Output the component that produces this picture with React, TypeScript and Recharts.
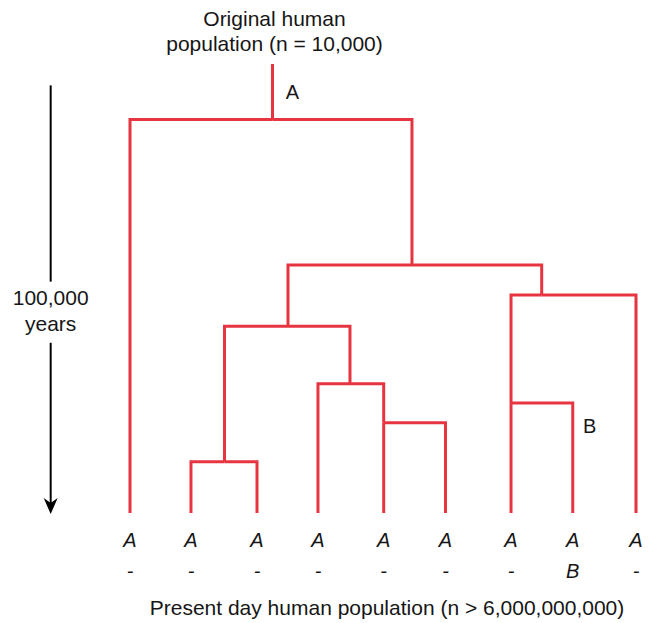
import { LineChart, Line, XAxis, YAxis, ReferenceLine, ReferenceDot } from "recharts";

const RED = "#e63540";
const INK = "#161616";
const FONT = "'Liberation Sans', Arial, Helvetica, sans-serif";

// leaves along the bottom (x in leaf units) and the two rows of labels under them
const leafX = [0, 0.964, 2.008, 2.972, 4.011, 4.988, 6.024, 7.0, 8];
const leafTop = ["A", "A", "A", "A", "A", "A", "A", "A", "A"];
const leafBottom = ["-", "-", "-", "-", "-", "-", "-", "B", "-"];
const leafParent = [0, 3, 3, 4, 5, 5, 7, 7, 6];

// internal split points: x position, time of split (thousand years ago), parent
const nodeX = [2.253, 4.458, 2.498, 1.494, 3.478, 4.011, 6.509, 6.024];
const nodeKya = [92.0, 58.0, 43.7, 12.0, 30.2, 21.1, 51.0, 25.7];
const nodeParent = [-1, 0, 1, 2, 2, 4, 1, 6];

const originKya = 105;

// time arrow on the left
const arrowX = -1.254;
const arrowTop = 100;
const arrowGap = [54.1, 39.8];

type Pt = { x: number; y: number };

function elbow(px: number, py: number, cx: number, cy: number): Pt[] {
  return [
    { x: px, y: py },
    { x: cx, y: py },
    { x: cx, y: cy },
  ];
}

const branches: Pt[][] = [
  [
    { x: nodeX[0], y: originKya },
    { x: nodeX[0], y: nodeKya[0] },
  ],
];
nodeParent.forEach((p, i) => {
  if (p >= 0) branches.push(elbow(nodeX[p], nodeKya[p], nodeX[i], nodeKya[i]));
});
leafParent.forEach((p, i) => {
  branches.push(elbow(nodeX[p], nodeKya[p], leafX[i], 0));
});

function LeafTick(props: any) {
  const { x, y, payload } = props;
  const i = props.index ?? leafX.indexOf(payload.value);
  return (
    <g>
      <text x={x} y={y + 34} textAnchor="middle" fontSize={20} fontStyle="italic" fill={INK}>
        {leafTop[i]}
      </text>
      <text x={x} y={y + 65} textAnchor="middle" fontSize={20} fontStyle="italic" fill={INK}>
        {leafBottom[i]}
      </text>
    </g>
  );
}

export default function App() {
  return (
    <div style={{ position: "absolute", left: 0, top: 0, fontFamily: FONT }}>
      <LineChart
        width={650}
        height={623}
        margin={{ top: 64, right: 14, bottom: 0, left: 130 }}
      >
        <XAxis
          type="number"
          dataKey="x"
          domain={[0, 8]}
          ticks={leafX}
          interval={0}
          axisLine={false}
          tickLine={false}
          tickSize={0}
          tickMargin={0}
          height={110}
          tick={<LeafTick />}
          label={{
            value: "Present day human population (n > 6,000,000,000)",
            position: "insideBottom",
            offset: 8,
            dx: 4,
            fontSize: 21,
            fill: INK,
          }}
        />
        <YAxis type="number" dataKey="y" domain={[0, originKya]} hide />
        {branches.map((pts, i) => (
          <Line
            key={i}
            data={pts}
            dataKey="y"
            type="linear"
            stroke={RED}
            strokeWidth={3}
            dot={false}
            activeDot={false}
            isAnimationActive={false}
          />
        ))}

        <ReferenceDot
          x={nodeX[0]}
          y={originKya}
          r={0}
          ifOverflow="visible"
          shape={(p: any) => (
            <g>
              <text x={p.cx + 2} y={p.cy - 38} textAnchor="middle" fontSize={21} fill={INK}>
                Original human
              </text>
              <text x={p.cx + 2} y={p.cy - 13} textAnchor="middle" fontSize={21} fill={INK}>
                population (n = 10,000)
              </text>
            </g>
          )}
        />
        <ReferenceDot
          x={nodeX[0]}
          y={98.5}
          r={0}
          ifOverflow="visible"
          shape={(p: any) => (
            <text x={p.cx + 20} y={p.cy + 7} textAnchor="middle" fontSize={20} fill={INK}>
              A
            </text>
          )}
        />
        <ReferenceDot
          x={leafX[7]}
          y={20.3}
          r={0}
          ifOverflow="visible"
          shape={(p: any) => (
            <text x={p.cx + 17} y={p.cy + 7} textAnchor="middle" fontSize={20} fill={INK}>
              B
            </text>
          )}
        />

        <ReferenceLine
          segment={[
            { x: arrowX, y: arrowTop },
            { x: arrowX, y: arrowGap[0] },
          ]}
          stroke="#000"
          strokeWidth={2}
          ifOverflow="visible"
        />
        <ReferenceLine
          segment={[
            { x: arrowX, y: arrowGap[1] },
            { x: arrowX, y: 2 },
          ]}
          stroke="#000"
          strokeWidth={2}
          ifOverflow="visible"
        />
        <ReferenceDot
          x={arrowX}
          y={0}
          r={0}
          ifOverflow="visible"
          shape={(p: any) => (
            <polygon
              points={`${p.cx},${p.cy + 1} ${p.cx - 7},${p.cy - 15} ${p.cx},${p.cy - 10} ${p.cx + 7},${p.cy - 15}`}
              fill="#000"
            />
          )}
        />
        <ReferenceDot
          x={arrowX}
          y={(arrowGap[0] + arrowGap[1]) / 2}
          r={0}
          ifOverflow="visible"
          shape={(p: any) => (
            <g>
              <text x={p.cx} y={p.cy - 7} textAnchor="middle" fontSize={21} fill={INK}>
                100,000
              </text>
              <text x={p.cx} y={p.cy + 19} textAnchor="middle" fontSize={21} fill={INK}>
                years
              </text>
            </g>
          )}
        />
      </LineChart>
    </div>
  );
}
